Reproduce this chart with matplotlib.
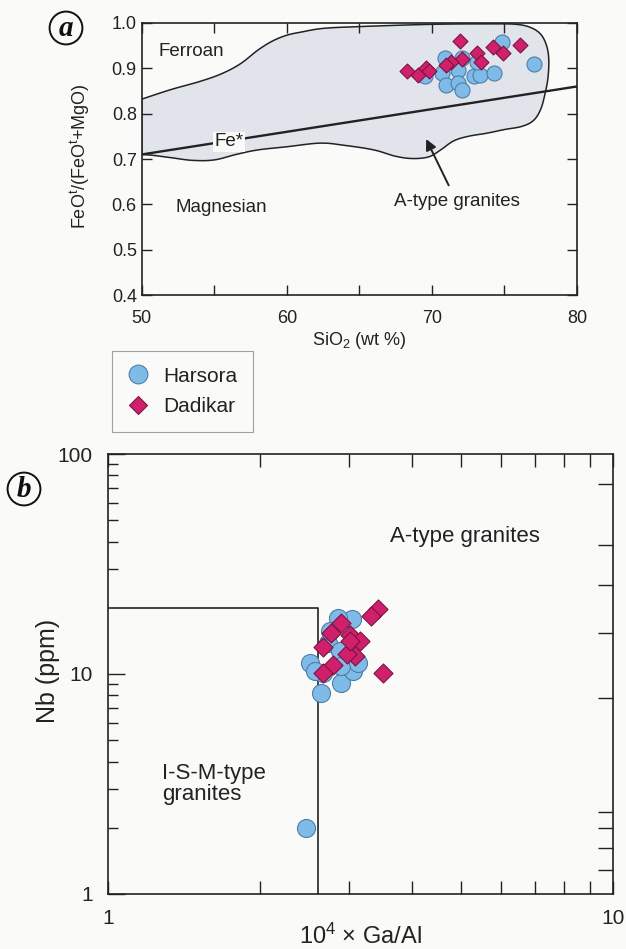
import matplotlib
matplotlib.use("Agg")
import matplotlib.pyplot as plt
import numpy as np
from matplotlib.patches import Polygon
from matplotlib.lines import Line2D
from matplotlib.markers import TICKLEFT
from matplotlib.ticker import FixedLocator, NullFormatter

plt.rcParams['font.family'] = ['Liberation Sans', 'DejaVu Sans']
plt.rcParams['mathtext.fontset'] = 'custom'
plt.rcParams['mathtext.rm'] = 'Liberation Sans'
plt.rcParams['mathtext.it'] = 'Liberation Sans:italic'
plt.rcParams['mathtext.bf'] = 'Liberation Sans:bold'

# ---- data: panel a (SiO2 vs FeOt/(FeOt+MgO)) ----
harsora_sio2 = [74.8, 77.0, 70.9, 72.1, 70.7, 71.8, 69.5, 71.0, 71.8, 72.1, 72.9, 73.3, 74.3, 73.1]
harsora_fe = [0.959, 0.909, 0.922, 0.922, 0.889, 0.896, 0.882, 0.863, 0.867, 0.852, 0.882, 0.885, 0.889, 0.915]
dadikar_sio2 = [71.9, 76.1, 74.2, 74.9, 73.1, 73.35, 72.1, 71.3, 71.0, 68.25, 69.05, 69.6, 69.8]
dadikar_fe = [0.960, 0.951, 0.948, 0.933, 0.933, 0.915, 0.920, 0.913, 0.907, 0.893, 0.885, 0.900, 0.893]

# A-type granite field outline (SiO2, Fe-number), left edge runs along the axis
field_sio2 = [50, 52, 54, 55.5, 56.8, 58, 59, 60, 61, 62.5, 65, 70, 74, 75.8, 76.8, 77.5,
              77.9, 78.05, 78.0, 77.8, 77.5, 77.0, 76.2, 75.0, 73.8, 72.5, 71.5, 70.6,
              69.8, 68.7, 67.5, 66, 64, 62.3, 60, 58, 56.5, 55, 53.5, 52, 50.8, 50]
field_fe = [0.832, 0.853, 0.871, 0.888, 0.910, 0.940, 0.960, 0.973, 0.980, 0.988, 0.992, 0.997,
            0.998, 0.997, 0.990, 0.975, 0.950, 0.920, 0.880, 0.845, 0.810, 0.785, 0.772,
            0.765, 0.757, 0.750, 0.740, 0.720, 0.705, 0.701, 0.706, 0.720, 0.730, 0.735,
            0.727, 0.720, 0.710, 0.698, 0.697, 0.703, 0.708, 0.710]
fe_line_sio2 = [50, 80]
fe_line_val = [0.71, 0.86]

# ---- data: panel b (10^4 Ga/Al vs Nb) ----
harsora_gaal = [2.47, 2.64, 2.90, 2.51, 2.67, 2.57, 3.04, 3.06, 2.73, 2.88, 2.90, 3.13, 2.86, 2.75]
harsora_nb = [2.0, 8.2, 9.1, 11.2, 10.1, 10.3, 17.7, 10.3, 13.9, 12.7, 10.9, 11.2, 18.0, 15.7]
dadikar_gaal = [3.51, 3.42, 3.32, 2.90, 2.77, 2.67, 3.01, 3.16, 3.08, 2.97, 2.79, 2.67, 3.01]
dadikar_nb = [10.1, 19.7, 18.3, 17.1, 15.4, 13.2, 15.1, 14.1, 12.1, 12.3, 11.0, 10.1, 14.1]
ism_gaal = [1, 2.6, 2.6]
ism_nb = [20, 20, 1]
right_ticks_b = [1.29, 1.62, 2.0, 2.36, 7.8, 15.4, 25.4, 38.6, 73]

BG = '#fafaf8'
INK = '#222222'
BLUE = '#7fbbe9'
BLUE_EDGE = '#4d7fa6'
PINK = '#d21f6c'
PINK_EDGE = '#7a1540'
FIELD = '#e1e4ea'


def smooth_open(xs, ys, n=12):
    # Catmull-Rom pass through the outline vertices so the field edge is drawn as a curve
    p = np.column_stack([xs, ys])
    p = np.vstack([p[0], p, p[-1]])
    out = []
    for i in range(1, len(p) - 2):
        p0, p1, p2, p3 = p[i - 1], p[i], p[i + 1], p[i + 2]
        for t in np.linspace(0, 1, n, endpoint=False):
            t2, t3 = t * t, t * t * t
            out.append(0.5 * ((2 * p1) + (-p0 + p2) * t + (2 * p0 - 5 * p1 + 4 * p2 - p3) * t2
                              + (-p0 + 3 * p1 - 3 * p2 + p3) * t3))
    out.append(p[-2])
    return np.array(out)


fig = plt.figure(figsize=(6.26, 9.49), dpi=100, facecolor=BG)

# ---------------- panel a ----------------
ax1 = fig.add_axes([0.2264, 0.6891, 0.6954, 0.2867], facecolor=BG)
outline = smooth_open(field_sio2, field_fe)
ax1.add_patch(Polygon(outline, closed=True, facecolor=FIELD, edgecolor=INK, lw=1.1, zorder=1))
ax1.plot(fe_line_sio2, fe_line_val, color=INK, lw=1.7, zorder=2)
ax1.scatter(harsora_sio2, harsora_fe, s=117, marker='o', facecolor=BLUE,
            edgecolor=BLUE_EDGE, lw=0.8, zorder=3)
ax1.scatter(dadikar_sio2, dadikar_fe, s=58, marker='D', facecolor=PINK,
            edgecolor=PINK_EDGE, lw=0.8, zorder=4)

ax1.set_xlim(50, 80)
ax1.set_ylim(0.4, 1.0)
ax1.set_xticks([50, 60, 70, 80])
ax1.set_xticks([55, 65, 75], minor=True)
ax1.set_yticks(np.arange(0.4, 1.01, 0.1))
ax1.set_yticklabels(['0.4', '0.5', '0.6', '0.7', '0.8', '0.9', '1.0'])
ax1.tick_params(which='both', direction='in', top=True, right=True, length=7.5,
                width=1.0, color=INK, labelsize=13, labelcolor=INK)
ax1.tick_params(axis='x', pad=11)
ax1.tick_params(axis='y', pad=3.5)
for sp in ax1.spines.values():
    sp.set_linewidth(1.2)
    sp.set_color(INK)

ax1.set_ylabel('FeO$^{\\mathrm{t}}$/(FeO$^{\\mathrm{t}}$+MgO)', fontsize=13, color=INK)
ax1.yaxis.set_label_coords(-0.114, 0.511)
ax1.set_xlabel('SiO$_2$ (wt %)', fontsize=13, color=INK)
ax1.xaxis.set_label_coords(0.5, -0.13)

ax1.text(53.4, 0.936, 'Ferroan', fontsize=13.5, color=INK, ha='center', va='center')
ax1.text(55.5, 0.592, 'Magnesian', fontsize=13.5, color=INK, ha='center', va='center')
ax1.text(56.0, 0.738, 'Fe*', fontsize=13.5, color=INK, ha='center', va='center', zorder=5,
         bbox=dict(boxstyle='square,pad=0.08', facecolor=BG, edgecolor='none'))
ax1.annotate('A-type granites', xy=(69.6, 0.744), xytext=(71.7, 0.606),
             fontsize=13.5, color=INK, ha='center', va='center',
             arrowprops=dict(arrowstyle='-|>', color=INK, lw=1.4, mutation_scale=16,
                             shrinkA=4, shrinkB=0))

# ---------------- panel b ----------------
ax2 = fig.add_axes([0.1725, 0.0580, 0.8067, 0.4636], facecolor=BG)
ax2.set_xscale('log')
ax2.set_yscale('log')
ax2.plot(ism_gaal, ism_nb, color=INK, lw=1.2, zorder=1)
ax2.scatter(harsora_gaal, harsora_nb, s=169, marker='o', facecolor=BLUE,
            edgecolor=BLUE_EDGE, lw=0.8, zorder=3)
ax2.scatter(dadikar_gaal, dadikar_nb, s=94, marker='D', facecolor=PINK,
            edgecolor=PINK_EDGE, lw=0.8, zorder=4)
# right-hand ticks of panel b sit at their own positions, drawn as tick markers on the spine
ax2.plot(np.full(len(right_ticks_b), 10.0), right_ticks_b, ls='none', marker=TICKLEFT,
         ms=11, mew=1.0, color=INK, clip_on=False, zorder=5)
ax2.set_xlim(1, 10)
ax2.set_ylim(1, 100)
ax2.xaxis.set_major_locator(FixedLocator([1, 10]))
ax2.xaxis.set_major_formatter(matplotlib.ticker.FixedFormatter(['1', '10']))
ax2.yaxis.set_major_locator(FixedLocator([1, 10, 100]))
ax2.yaxis.set_major_formatter(matplotlib.ticker.FixedFormatter(['1', '10', '100']))
ax2.xaxis.set_minor_locator(FixedLocator([2, 3, 4, 5, 6, 7, 8, 9]))
ax2.yaxis.set_minor_locator(FixedLocator([2, 3, 4, 5, 6, 7, 8, 9, 30, 40, 50, 60, 70, 80, 90]))
ax2.xaxis.set_minor_formatter(NullFormatter())
ax2.yaxis.set_minor_formatter(NullFormatter())
ax2.tick_params(which='both', direction='in', top=True, right=False,
                labeltop=False, labelright=False,
                color=INK, width=1.0, labelsize=15, labelcolor=INK)
ax2.tick_params(axis='y', which='major', length=12, pad=11)
ax2.tick_params(axis='y', which='minor', length=7)
ax2.tick_params(axis='x', which='both', length=9.5, pad=11)
for sp in ax2.spines.values():
    sp.set_linewidth(1.2)
    sp.set_color(INK)

ax2.set_ylabel('Nb (ppm)', fontsize=18, color=INK)
ax2.yaxis.set_label_coords(-0.095, 0.506)
ax2.set_xlabel('10$^4$ × Ga/Al', fontsize=17, color=INK)
ax2.xaxis.set_label_coords(0.5, -0.068)

ax2.text(5.1, 42, 'A-type granites', fontsize=16, color=INK, ha='center', va='center')
ax2.text(1.28, 3.15, 'I-S-M-type\ngranites', fontsize=16, color=INK, ha='left',
         va='center', linespacing=1.0)

# ---------------- legend ----------------
handles = [Line2D([], [], ls='none', marker='o', ms=13.5, mfc=BLUE, mec=BLUE_EDGE, mew=0.8),
           Line2D([], [], ls='none', marker='D', ms=9.5, mfc=PINK, mec=PINK_EDGE, mew=0.8)]
leg = fig.legend(handles, ['Harsora', 'Dadikar'], loc='upper left',
                 bbox_to_anchor=(112 / 626, 1 - 351 / 949), fontsize=15,
                 frameon=True, fancybox=False, edgecolor='#a0a0a0', facecolor=BG,
                 framealpha=1, borderaxespad=0, borderpad=0.75, handlelength=1.0,
                 handletextpad=0.7, labelspacing=0.55)
leg.get_frame().set_linewidth(0.8)
for t in leg.get_texts():
    t.set_color(INK)

# ---------------- panel letters ----------------
for x, y, s in [(66 / 626, 1 - 28 / 949, 'a'), (24 / 626, 1 - 489 / 949, 'b')]:
    fig.text(x, y, s, fontsize=21, fontstyle='italic', fontweight='bold',
             family=['Liberation Serif', 'DejaVu Serif'], color='#111111',
             ha='center', va='center',
             bbox=dict(boxstyle='circle,pad=0.1', facecolor='none',
                       edgecolor='#111111', lw=1.4))

fig.savefig('out.png', dpi=100, facecolor=BG)
